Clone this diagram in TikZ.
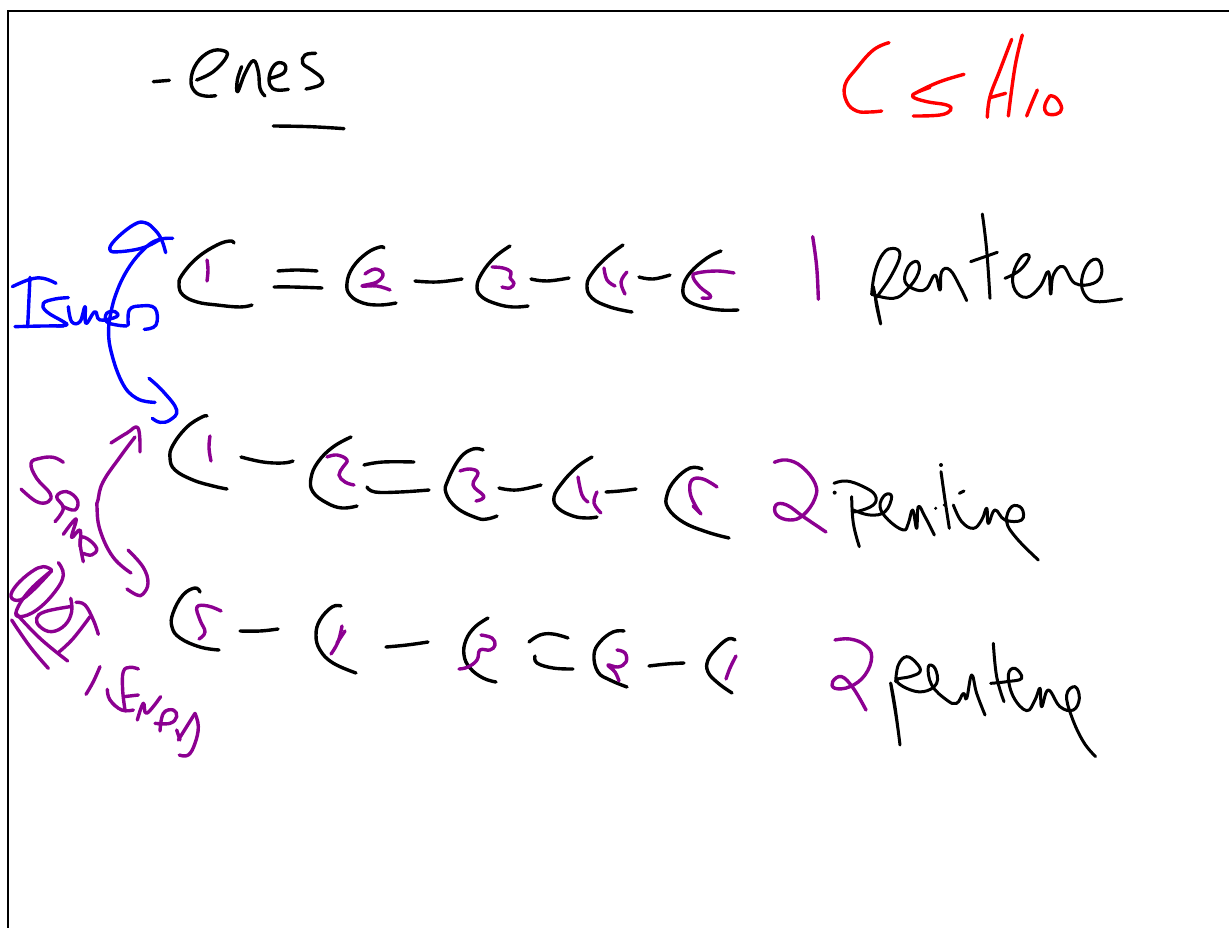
\documentclass[tikz,border=0pt]{standalone}
\definecolor{pur}{RGB}{140,0,145}
\tikzset{ink/.style={line width=3.4pt,line cap=round,line join=round},
 thin ink/.style={line width=3pt,line cap=round,line join=round},
 zoomed/.style={shift={#1},scale=0.33333}}
\newcommand\pen[2][black]{\draw[ink,#1] plot[smooth,tension=.7] coordinates {#2};}
\newcommand\fine[2][black]{\draw[thin ink,#1] plot[smooth,tension=.7] coordinates {#2};}
\begin{document}
\begin{tikzpicture}[x=1pt,y=-1pt]
\useasboundingbox (0,0) rectangle (1229,928);
\fill[white] (0,0) rectangle (1229,928);
% frame
\draw[black,line width=2.6pt] (8,928) -- (8,11) -- (1229,11);

% title
\begin{scope}[zoomed={(130,30)}]
\pen{(70,155)(118,151)}
\pen{(200,150)(250,125)(290,80)(280,62)(240,65)(200,100)(183,150)(195,185)(225,198)(257,197)}
\pen{(335,110)(322,150)(323,185)(345,130)(370,92)(385,125)(390,175)(405,198)}
\pen{(420,145)(460,130)(465,105)(440,100)(420,130)(420,165)(440,180)(475,178)}
\pen{(557,70)(525,75)(518,100)(545,120)(575,145)(570,165)(528,177)}
\pen{(430,288)(540,290)(642,296)}
\end{scope}

% formula
\begin{scope}[zoomed={(830,30)}]
\pen[red]{(177,38)(130,60)(80,115)(45,165)(50,215)(80,243)(120,246)(155,243)}
\pen[red]{(402,133)(330,155)(265,185)(248,200)(290,215)(350,225)(362,240)(330,255)(250,258)}
\pen[red]{(300,172)(265,185)}
\pen[red]{(545,28)(510,120)(480,200)(472,262)}
\pen[red]{(577,15)(555,110)(535,258)}
\pen[red]{(480,203)(527,190)}
\pen[red]{(622,180)(605,220)(590,258)}
\pen[red]{(660,197)(645,225)(650,250)(680,252)(695,235)(680,205)(660,197)}
\end{scope}

% row 1
\pen{(234,243)(230,241)(217,245)(197,258)(182,275)(179,285)(183,295)(197,302)(217,305)(240,307)(252,305)}
\pen[pur]{(207,260)(208,270)(207,281)}
\pen{(278,271)(297,270)(317,271)}
\pen{(274,287)(293,287)(322,288)}
\pen{(384,248)(380,247)(367,253)(353,267)(347,283)(350,295)(363,303)(380,305)(396,303)}
\pen[pur]{(365,274)(375,269)(383,274)(377,282)(362,286)(377,286)(390,290)}
\pen{(415,281)(437,282)(462,279)}
\pen{(510,246)(495,257)(482,273)(477,287)(482,297)(497,304)(513,307)(528,306)}
\pen[pur]{(492,267)(503,268)(511,272)(510,278)(514,283)(510,288)(502,287)}
\pen{(531,279)(547,281)(569,278)}
\pen{(623,245)(607,257)(593,272)(587,285)(592,298)(610,307)(632,312)}
\pen[pur]{(604,268)(607,280)(615,286)}
\pen[pur]{(627,272)(621,282)(625,294)}
\pen{(639,277)(653,279)(670,275)}
\pen{(721,251)(707,258)(690,273)(683,288)(687,300)(703,307)(720,310)(738,310)}
\pen[pur]{(734,273)(717,271)(697,273)(693,277)(700,287)(710,295)(709,298)(702,298)}

% row 2
\pen{(207,416)(202,417)(187,427)(173,445)(170,458)(175,470)(193,480)(213,486)(227,489)}
\pen[pur]{(210,436)(209,448)(211,461)}
\pen{(241,457)(263,462)(283,463)(293,461)}
\pen{(351,437)(333,447)(318,462)(311,478)(313,492)(327,503)(342,508)(357,506)}
\pen[pur]{(327,457)(337,455)(347,460)(343,467)(339,475)(345,482)(354,485)}
\pen{(364,465)(383,462)(414,462)}
\pen{(367,487)(375,492)(400,492)(429,490)}
\pen{(483,450)(473,449)(460,458)(448,480)(446,493)(457,508)(477,518)(487,519)(497,516)}
\pen[pur]{(460,471)(470,469)(478,473)(473,485)(483,495)(482,499)(476,501)}
\pen{(499,488)(517,490)(541,485)}
\pen{(592,457)(577,467)(562,483)(554,497)(558,508)(573,516)(587,518)(597,517)}
\pen[pur]{(578,477)(582,495)(588,502)}
\pen[pur]{(597,492)(594,503)(601,513)}
\pen{(606,492)(620,491)(636,489)}
\pen{(702,469)(690,468)(675,480)(667,495)(668,508)(683,522)(707,532)(729,538)}
\pen[pur]{(717,487)(703,479)(692,480)(690,492)(695,505)(701,514)}
\pen[pur]{(693,506)(700,513)}

% row 3
\pen{(200,592)(195,588)(183,595)(173,613)(172,627)(180,638)(200,647)(219,650)}
\pen[pur]{(221,611)(208,606)(197,607)(200,620)(205,632)(199,639)}
\pen{(240,631)(260,631)(278,629)}
\pen{(341,606)(332,607)(320,620)(316,635)(320,650)(333,663)(356,673)}
\pen[pur]{(342,626)(338,642)(331,654)}
\pen[pur]{(345,631)(337,643)}
\pen{(386,647)(407,645)(428,642)}
\pen{(488,618)(475,627)(466,640)(464,655)(470,668)(483,678)(496,682)}
\pen[pur]{(481,635)(492,638)(495,645)(490,650)(480,650)(477,660)(468,667)(459,669)}
\pen{(529,642)(540,635)(553,634)(568,638)}
\pen{(535,656)(537,663)(553,668)(573,669)}
\pen{(624,631)(613,632)(600,642)(594,655)(598,672)(610,680)(627,687)}
\pen[pur]{(617,650)(625,653)(626,662)(618,667)(608,665)(615,672)(619,681)}
\pen{(649,666)(667,664)(684,663)}
\pen{(735,640)(728,639)(717,648)(708,660)(708,672)(718,683)(732,693)}
\pen[pur]{(736,656)(730,668)(726,679)}

% names, rows 1 and 2
\begin{scope}[zoomed={(760,200)}]
\pen[pur]{(158,110)(170,200)(175,298)}
\fine{(335,283)(345,215)(370,160)(400,145)(420,165)(395,225)(355,285)(347,300)(362,372)(348,300)(340,260)}
\fine{(335,283)(400,295)(440,270)(475,220)(472,185)(445,200)(435,245)(470,270)(500,265)(525,225)(540,270)(545,215)(570,210)(600,260)(620,302)}
\fine{(667,42)(680,150)(690,295)}
\fine{(632,185)(675,170)(712,157)}
\fine{(735,235)(780,210)(808,170)(785,170)(760,220)(765,270)(800,292)(840,260)(865,215)(872,282)(880,225)(910,200)(945,250)(1000,250)(1025,220)(1015,180)(985,190)(965,240)(975,285)(1010,305)(1085,297)}
\pen[pur]{(43,787)(80,780)(125,800)(165,850)(165,895)(130,945)(90,960)(50,945)(48,915)(80,915)(130,950)(198,996)}
\fill (224,878) circle[radius=6];
\fill (543,795) circle[radius=6];
\fill (527,925) circle[radius=5];
\fill (553,915) circle[radius=5];
\fine{(222,850)(260,843)(310,860)(345,885)(340,915)(290,935)(278,930)}
\fine{(275,890)(280,970)(298,1040)}
\fine{(280,930)(330,945)(375,935)(395,890)(375,885)(360,920)(385,960)(430,990)(445,970)(458,930)(470,985)(475,920)(495,950)(523,1005)}
\fine{(543,815)(555,900)(568,985)}
\fine{(598,880)(612,873)}
\fine{(580,915)(605,965)(640,985)(665,960)(680,925)(685,970)(705,930)(735,960)(785,960)(785,925)(755,920)(740,965)(770,1015)(835,1080)}
\end{scope}

% name, row 3
\begin{scope}[zoomed={(800,620)}]
\pen[pur]{(105,60)(150,57)(195,75)(215,110)(195,165)(150,200)(105,205)(98,185)(125,170)(160,205)(198,270)}
\fine{(300,375)(290,300)(272,190)(285,260)(300,375)}
\fine{(287,185)(295,135)(320,110)(350,130)(360,155)(330,170)(290,180)(320,205)(370,215)(410,190)(405,145)(385,140)(395,195)(440,240)(470,250)(490,220)(500,235)(515,165)(530,220)(555,285)}
\fine{(580,70)(590,170)(612,245)}
\fine{(572,190)(620,185)(665,175)(645,145)(625,165)(640,230)(680,272)(705,240)(720,205)(725,260)(745,210)(780,260)(820,270)(838,235)(825,200)(800,225)(815,290)(850,365)(887,410)}
\end{scope}

% blue isomers
\begin{scope}[zoomed={(0,200)}]
\pen[blue]{(37,260)(90,238)(130,235)(168,250)}
\pen[blue]{(90,232)(83,380)}
\pen[blue]{(45,380)(130,378)(190,378)}
\pen[blue]{(205,293)(165,297)(130,310)(140,335)(190,365)(200,375)(170,378)}
\pen[blue]{(205,320)(215,365)(240,365)(255,320)(258,370)(285,335)(300,360)(350,350)(345,335)(320,340)(320,365)(350,375)(380,378)}
\pen[blue]{(385,375)(388,330)(420,318)(465,325)(468,375)(433,388)}
\pen[blue]{(327,370)(345,290)(385,205)(440,140)(480,118)(518,115)}
\pen[blue]{(480,118)(430,143)(360,155)(330,150)(345,120)(400,75)(435,68)(465,90)(485,120)(497,158)}
\pen[blue]{(327,370)(330,440)(365,545)(410,595)(465,607)}
\pen[blue]{(447,535)(490,575)(530,630)(510,660)(480,667)(457,655)}
\end{scope}

% purple arrow
\pen[pur]{(135,437)(120,457)(103,482)(98,500)(97,507)(100,530)(113,557)(131,573)}
\pen[pur]{(111,443)(127,433)(138,428)(140,452)}
\pen[pur]{(128,550)(143,567)(148,583)(143,594)(137,595)(127,589)}

% purple notes
\begin{scope}[zoomed={(0,450)}]
\pen[pur]{(190,37)(160,22)(120,25)(93,40)(110,85)(150,130)(145,155)(110,155)(63,117)}
\pen[pur]{(165,215)(190,175)(170,140)(200,125)(232,150)(225,180)(190,170)}
\pen[pur]{(190,253)(228,207)(215,262)(240,240)(240,290)}
\pen[pur]{(250,335)(240,270)(260,265)(290,295)(275,315)(250,310)}
\pen[pur]{(155,360)(130,350)(95,365)(50,405)(33,440)(60,450)(100,420)(155,362)}
\pen[pur]{(155,362)(90,420)(50,480)(60,500)(110,480)(165,425)(190,375)(175,338)}
\pen[pur]{(212,445)(215,485)(195,525)(155,545)(120,530)(110,505)(135,485)(210,470)}
\pen[pur]{(228,457)(255,465)(280,510)(295,553)}
\pen[pur]{(178,605)(220,565)(270,500)}
\pen[pur]{(48,490)(120,565)(203,633)}
\pen[pur]{(35,510)(90,590)(145,655)}
\pen[pur]{(300,650)(280,695)(258,733)}
\pen[pur]{(415,657)(390,652)(370,665)(368,720)(375,780)}
\pen[pur]{(322,718)(330,750)(365,780)(400,780)}
\pen[pur]{(372,740)(415,735)}
\pen[pur]{(412,810)(430,760)(440,790)(482,740)}
\pen[pur]{(480,843)(490,790)(520,780)(530,800)(510,820)(465,820)}
\pen[pur]{(540,870)(530,840)}
\pen[pur]{(585,790)(595,830)(585,880)(565,915)(538,915)}
\pen[pur]{(585,790)(560,830)(535,870)}
\end{scope}
\end{tikzpicture}
\end{document}
